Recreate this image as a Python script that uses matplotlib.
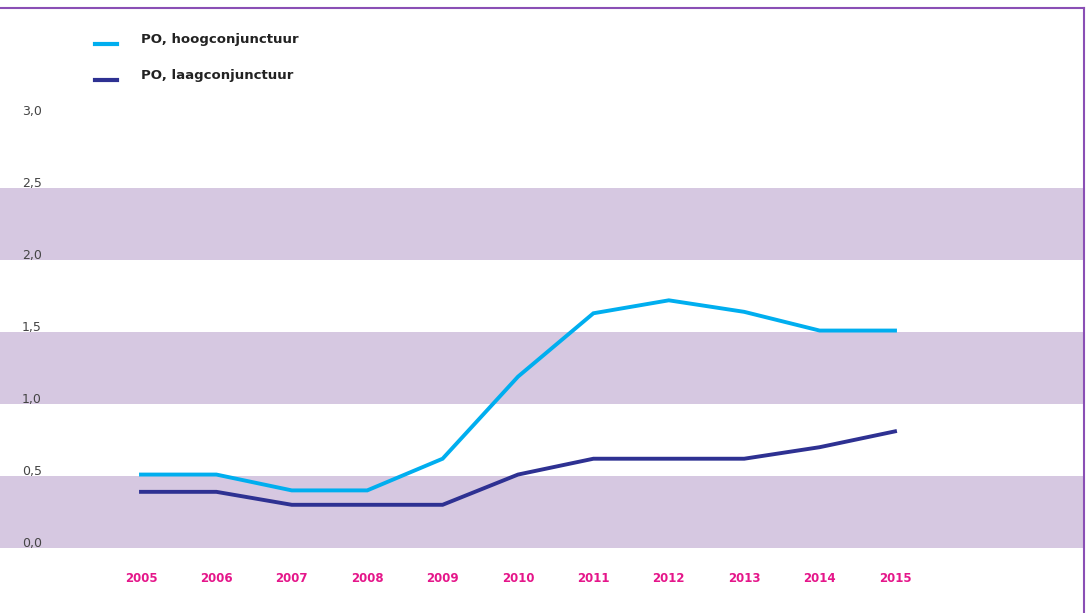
import matplotlib
matplotlib.use("Agg")
import matplotlib.pyplot as plt
from matplotlib.lines import Line2D

# data
jaren = [2005, 2006, 2007, 2008, 2009, 2010, 2011, 2012, 2013, 2014, 2015]
hoog = [0.51, 0.51, 0.40, 0.40, 0.62, 1.19, 1.63, 1.72, 1.64, 1.51, 1.51]
laag = [0.39, 0.39, 0.30, 0.30, 0.30, 0.51, 0.62, 0.62, 0.62, 0.70, 0.81]
y_ticks = [0.0, 0.5, 1.0, 1.5, 2.0, 2.5, 3.0]
y_labels = ["0,0", "0,5", "1,0", "1,5", "2,0", "2,5", "3,0"]
banden = [(0.0, 0.5), (1.0, 1.5), (2.0, 2.5)]
series_namen = ["PO, hoogconjunctuur", "PO, laagconjunctuur"]

kleur_hoog = "#00AEEF"
kleur_laag = "#2E3192"
kleur_band = "#D6C8E1"
kleur_kader = "#8A4FB5"
kleur_jaar = "#E5168A"

W, H = 1089, 613
fig = plt.figure(figsize=(W / 100, H / 100), dpi=100, facecolor="white")
ax = fig.add_axes([0, 0, 1, 1])
ax.axis("off")

# pixel mapping: 2005 -> x 141, step 75.4 px; y 0.0 -> 548 px, 144 px per unit
px_jaar = 75.4
ax.set_xlim(2005 - 141 / px_jaar, 2005 + (W - 141) / px_jaar)
ax.set_ylim((548 - H) / 144, 548 / 144)

rechts = 1084 / W
for lo, hi in banden:
    ax.axhspan(lo, hi, xmin=0, xmax=rechts, color=kleur_band, lw=0, zorder=0)

ax.plot(jaren, hoog, color=kleur_hoog, lw=2.8, solid_joinstyle="miter", zorder=3)
ax.plot(jaren, laag, color=kleur_laag, lw=2.8, solid_joinstyle="miter", zorder=3)

x_lab = 2005 - (141 - 22) / px_jaar
for v, lab in zip(y_ticks, y_labels):
    ax.text(x_lab, v - 0.012, lab, fontsize=9, color="#444444",
            ha="left", va="bottom", family="DejaVu Sans")

for j in jaren:
    ax.text(j, (548 - 579) / 144, str(j), fontsize=8.5, color=kleur_jaar,
            ha="center", va="center", fontweight="bold", family="DejaVu Sans")

# legend
for i, (naam, kl) in enumerate(zip(series_namen, [kleur_hoog, kleur_laag])):
    y_px = 44 + i * 36
    fig.add_artist(Line2D([95 / W, 117 / W], [1 - y_px / H, 1 - y_px / H],
                          color=kl, lw=3, transform=fig.transFigure))
    fig.text(141 / W, 1 - (y_px - 5) / H, naam, fontsize=9.5, color="#222222",
             ha="left", va="center", fontweight="bold", family="DejaVu Sans")

# frame: top and right border
fig.add_artist(Line2D([0, 1084 / W], [1 - 8 / H, 1 - 8 / H], color=kleur_kader,
                      lw=1.5, transform=fig.transFigure))
fig.add_artist(Line2D([1084 / W, 1084 / W], [1 - 8 / H, 0], color=kleur_kader,
                      lw=1.5, transform=fig.transFigure))

fig.savefig("out.png", dpi=100, facecolor="white")
